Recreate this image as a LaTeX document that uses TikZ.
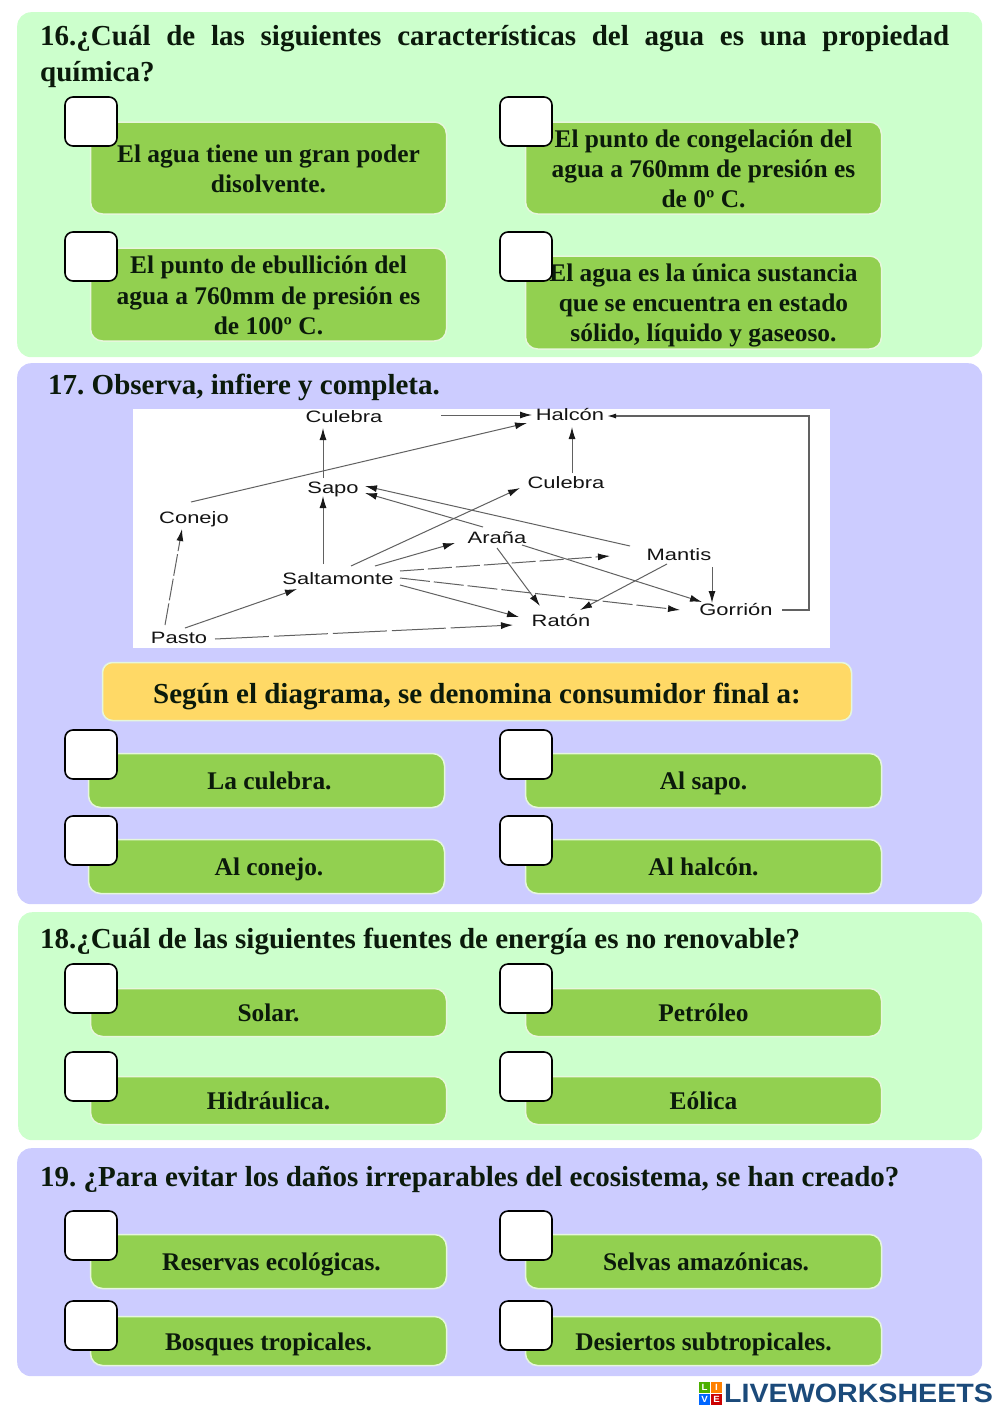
\documentclass[tikz,border=0pt]{standalone}
\usepackage{fontspec}
\usepackage{xcolor}
\usetikzlibrary{shapes,arrows.meta,positioning}
\setmainfont{Liberation Serif}
\newfontfamily\webfont[FakeStretch=1.33]{Liberation Sans}
\newfontfamily\logofont[FakeStretch=1.08]{Liberation Sans}
\frenchspacing
\definecolor{panelgreen}{HTML}{CCFFCC}
\definecolor{panelblue}{HTML}{CCCCFF}
\definecolor{answergreen}{HTML}{92D050}
\definecolor{answeredge}{HTML}{E6F7DC}
\definecolor{barYellow}{HTML}{FFD966}
\definecolor{inkdark}{HTML}{0B1A0B}
\definecolor{logoblue}{HTML}{1B4A7A}
\tikzset{
  panel/.style={rounded corners=14pt, inner sep=0pt, anchor=north west},
  heading/.style={font=\fontsize{29}{36}\selectfont\bfseries, text=inkdark, inner sep=0pt, anchor=west},
  answer/.style={fill=answergreen, draw=answeredge, line width=1.5pt, rounded corners=12pt,
    minimum width=356pt, inner sep=0pt, align=center, text=inkdark,
    font=\fontsize{25.4}{30.3}\selectfont\bfseries,
    execute at begin node=\rule{0pt}{28pt}, execute at end node=\strut},
  answertext/.style={inner sep=0pt, align=center, text=inkdark,
    font=\fontsize{25.4}{30.3}\selectfont\bfseries},
  checkbox/.style={fill=white, draw=black, line width=1.6pt, rounded corners=8pt,
    minimum width=52pt, minimum height=49pt, inner sep=0pt},
  webnode/.style={font=\webfont\fontsize{16.5}{18}\selectfont, text=black!92, inner sep=0pt,
    text height=14pt, text depth=3pt},
  webline/.style={draw=black!62, line width=1pt, -{Latex[length=12pt,width=7pt,color=black!90]}},
  logotile/.style={minimum size=11pt, inner sep=0pt, text=white, font=\logofont\fontsize{9}{9}\selectfont\bfseries}
}
\begin{document}
\begin{tikzpicture}[x=1pt,y=-1pt]
  \useasboundingbox (0,0) rectangle (1000,1413);

  % Panels
  \node[panel, fill=panelgreen, minimum width=965pt, minimum height=345pt] (panelA) at (17,12) {};
  \node[panel, fill=panelblue, minimum width=965pt, minimum height=541pt] (panelB) at (17,363) {};
  \node[panel, fill=panelgreen, minimum width=964pt, minimum height=228pt] (panelC) at (18,912) {};
  \node[panel, fill=panelblue, minimum width=965pt, minimum height=228pt] (panelD) at (17,1148) {};

  % Question 16
  \node[heading, text width=909pt, align=justify] (headA) at (40,56.5) {16.¿Cuál de las siguientes características del agua es una propiedad química?};
  \node[answer, minimum height=92pt] (ansA) at (268.5,168) {};
  \node[answer, minimum height=92pt] (ansB) at (703.5,168) {};
  \node[answer, minimum height=93pt] (ansC) at (268.5,294.5) {};
  \node[answer, minimum height=93pt] (ansD) at (703.5,302.5) {};
  \node[answertext] (textA) at (268.5,169) {El agua tiene un gran poder\\disolvente.};
  \node[answertext] (textB) at (703.5,169) {El punto de congelación del\\agua a 760mm de presión es\\de 0º C.};
  \node[answertext] (textC) at (268.5,295.5) {El punto de ebullición del\\agua a 760mm de presión es\\de 100º C.};
  \node[answertext] (textD) at (703.5,305.5) {El agua es la única sustancia\\que se encuentra en estado\\sólido, líquido y gaseoso.};

  % Question 17
  \node[heading, anchor=west] (headB) at (48,387) {17. Observa, infiere y completa.};
  \node[fill=white, minimum width=697pt, minimum height=239pt, inner sep=0pt, anchor=north west] (webback) at (133,409) {};

  \node[webnode] (culebraA) at (344,417) {Culebra};
  \node[webnode] (halcon) at (570,415) {Halcón};
  \node[webnode] (sapo) at (333,488) {Sapo};
  \node[webnode] (culebraB) at (566,483) {Culebra};
  \node[webnode] (conejo) at (194,518) {Conejo};
  \node[webnode] (arana) at (497,538) {Araña};
  \node[webnode] (mantis) at (679,555) {Mantis};
  \node[webnode] (saltamonte) at (338,579) {Saltamonte};
  \node[webnode] (gorrion) at (736,610) {Gorrión};
  \node[webnode] (raton) at (561,621) {Ratón};
  \node[webnode] (pasto) at (179,638) {Pasto};

  \draw[webline] ([shift={(-10,-10)}]sapo.center) -- ([shift={(-21,11)}]culebraA.center);
  \draw[webline] ([shift={(-15,-15)}]saltamonte.center) -- ([shift={(-10,8)}]sapo.center);
  \draw[webline, dash pattern=on 22pt off 3pt] ([shift={(-14,-13)}]pasto.center) -- ([shift={(-12,11)}]conejo.center);
  \draw[webline] ([shift={(6,-10)}]pasto.center) -- ([shift={(-41,10)}]saltamonte.center);
  \draw[webline] ([shift={(-3,-16)}]conejo.center) -- ([shift={(-43,8)}]halcon.center);
  \draw[webline] ([shift={(97,-2)}]culebraA.center) -- ([shift={(-38,0)}]halcon.center);
  \draw[webline] ([shift={(6,-10)}]culebraB.center) -- ([shift={(2,12)}]halcon.center);
  \draw[webline] ([shift={(13,-13)}]saltamonte.center) -- ([shift={(-46,5)}]culebraB.center);
  \draw[webline] ([shift={(37,-13)}]saltamonte.center) -- ([shift={(-42,5)}]arana.center);
  \draw[webline, dash pattern=on 24pt off 4pt] ([shift={(62,-8)}]saltamonte.center) -- ([shift={(-69,1)}]mantis.center);
  \draw[webline, dash pattern=on 30pt off 4pt] ([shift={(62,-1)}]saltamonte.center) -- ([shift={(-56,0)}]gorrion.center);
  \draw[webline] ([shift={(62,6)}]saltamonte.center) -- ([shift={(-42,-4)}]raton.center);
  \draw[webline, dash pattern=on 54pt off 5pt] ([shift={(36,1)}]pasto.center) -- ([shift={(-48,4)}]raton.center);
  \draw[webline] ([shift={(-14,-11)}]arana.center) -- ([shift={(32,5)}]sapo.center);
  \draw[webline] ([shift={(-49,-9)}]mantis.center) -- ([shift={(32,-2)}]sapo.center);
  \draw[webline] ([shift={(25,7)}]arana.center) -- ([shift={(-34,-8)}]gorrion.center);
  \draw[webline] ([shift={(0,10)}]arana.center) -- ([shift={(-21,-15)}]raton.center);
  \draw[webline] ([shift={(-12,9)}]mantis.center) -- ([shift={(19,-11)}]raton.center);
  \draw[webline] ([shift={(33,12)}]mantis.center) -- ([shift={(-24,-7)}]gorrion.center);
  \draw[webline, line width=1.3pt, -{Latex[length=9pt,width=5pt,color=black!90]}] ([shift={(46,0)}]gorrion.center) -| (809,416) -- ([shift={(37,1)}]halcon.center);

  \node[fill=barYellow, draw=answeredge, line width=1.5pt, rounded corners=10pt, minimum width=749pt, minimum height=58pt, inner sep=0pt,
    text=inkdark, font=\fontsize{29}{32}\selectfont\bfseries, execute at begin node=\rule{0pt}{34.4pt}\strut] (consumer) at (477,691.5) {Según el diagrama, se denomina consumidor final a:};
  \node[answer, minimum height=54pt] (ansE) at (266.5,780.5) {\hspace*{6pt}La culebra.};
  \node[answer, minimum height=54pt] (ansF) at (703.5,780.5) {Al sapo.};
  \node[answer, minimum height=54pt] (ansG) at (266.5,866.5) {\hspace*{5pt}Al conejo.};
  \node[answer, minimum height=54pt] (ansH) at (703.5,866.5) {Al halcón.};

  % Question 18
  \node[heading] (headC) at (40,941) {18.¿Cuál de las siguientes fuentes de energía es no renovable?};
  \node[answer, minimum height=48pt] (ansI) at (268.5,1012.5) {Solar.};
  \node[answer, minimum height=48pt] (ansJ) at (703.5,1012.5) {Petróleo};
  \node[answer, minimum height=48pt] (ansK) at (268.5,1100.5) {Hidráulica.};
  \node[answer, minimum height=48pt] (ansL) at (703.5,1100.5) {Eólica};

  % Question 19
  \node[heading] (headD) at (40,1179) {19. ¿Para evitar los daños irreparables del ecosistema, se han creado?};
  \node[answer, minimum height=54pt] (ansM) at (268.5,1261.5) {\hspace*{6pt}Reservas ecológicas.};
  \node[answer, minimum height=54pt] (ansN) at (703.5,1261.5) {\hspace*{5pt}Selvas amazónicas.};
  \node[answer, minimum height=49pt] (ansO) at (268.5,1341) {Bosques tropicales.};
  \node[answer, minimum height=49pt] (ansP) at (703.5,1341) {Desiertos subtropicales.};

  % Tick boxes
  \foreach \bx in {91,526}
    \foreach \by in {121.5,256.5,754.5,840.5,988.5,1076.5,1235.5,1325.5}
      \node[checkbox] (tick\bx-\by) at (\bx,\by) {};

  % Logo
  \node[logotile, fill=green!55!black!70!yellow] (logoL) at (704.5,1387.5) {L};
  \node[logotile, fill=orange] (logoI) at (716.5,1387.5) {I};
  \node[logotile, fill=blue!60!cyan] (logoV) at (704.5,1399.5) {V};
  \node[logotile, fill=red!80!black] (logoE) at (716.5,1399.5) {E};
  \node[inner sep=0pt, anchor=west, text=logoblue, font=\logofont\fontsize{26.5}{28}\selectfont\bfseries] (logotext) at (724,1393) {LIVEWORKSHEETS};
\end{tikzpicture}
\end{document}
